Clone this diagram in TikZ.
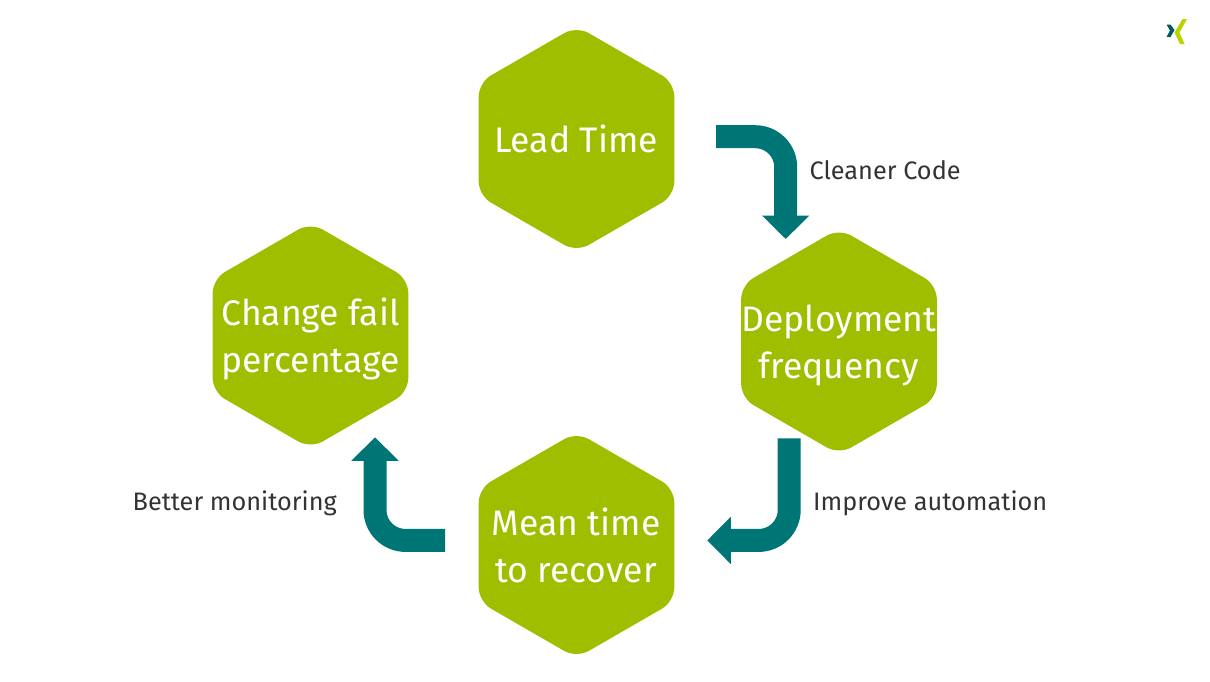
\documentclass[tikz,border=0pt]{standalone}
\usepackage{fontspec}
\setmainfont{Fira Sans}
\usepackage{tikz}
\usetikzlibrary{arrows.meta,shapes.geometric}
\definecolor{hexgreen}{HTML}{A0BE00}
\definecolor{flowteal}{HTML}{007575}
\definecolor{logogreen}{HTML}{B9D300}
\definecolor{logoteal}{HTML}{00595F}
\definecolor{notegray}{HTML}{333333}
\tikzset{
  hexnode/.style={regular polygon,regular polygon sides=6,shape border rotate=30,minimum size=4.52cm,inner sep=0pt,outer sep=0pt,fill=hexgreen,rounded corners=0.28cm},
  hextext/.style={text=white,align=center,font=\fontsize{20.2pt}{26.6pt}\selectfont},
  flowarrow/.style={draw=flowteal,line width=0.46cm,rounded corners=0.61cm,-{Triangle[length=0.47cm,width=0.92cm,fill=flowteal]}},
  notetext/.style={text=notegray,font=\fontsize{14.4pt}{17pt}\selectfont},
}
\begin{document}
\begin{tikzpicture}[x=0.02cm,y=-0.02cm]
      \useasboundingbox (0,0) rectangle (1210,681);
      \node[hexnode] (lead) at (576.5,139) {};
      \node[hexnode] (deploy) at (839,341.5) {};
      \node[hexnode] (fail) at (310.5,335.5) {};
      \node[hexnode] (recover) at (576.5,545) {};
      \node[hextext] (leadlabel) at (576,139) {Lead Time};
      \node[hextext] (deploylabel) at (839,345.5) {Deployment\\frequency};
      \node[hextext] (faillabel) at (310.5,339) {Change fail\\percentage};
      \node[hextext] (recoverlabel) at (576,545) {Mean time\\to recover};
      \coordinate (a1) at (716,136.7);
      \coordinate (a2) at (785.7,239);
      \coordinate (b1) at (789.2,438.3);
      \coordinate (b2) at (707.3,540.4);
      \coordinate (c1) at (445,540.4);
      \coordinate (c2) at (375,437.3);
      \draw[flowarrow] (a1) -| (a2);
      \draw[flowarrow] (b1) |- (b2);
      \draw[flowarrow] (c1) -| (c2);
      \node[notetext,anchor=west] (cleaner) at (803.5,170) {Cleaner Code};
      \node[notetext,anchor=west] (improve) at (807,503) {Improve automation};
      \node[notetext,anchor=east] (better) at (343,503) {Better monitoring};
      \fill[logoteal] (1166.5,24.5) -- (1170.5,24.5) -- (1174.5,30) -- (1170.5,37) -- (1166.5,37) -- (1170,30.5) -- cycle;
      \fill[logogreen] (1182.5,19) -- (1187,19) -- (1179.5,32.5) -- (1184.5,44) -- (1180,44) -- (1174.5,32.5) -- cycle;
    \end{tikzpicture}
\end{document}
